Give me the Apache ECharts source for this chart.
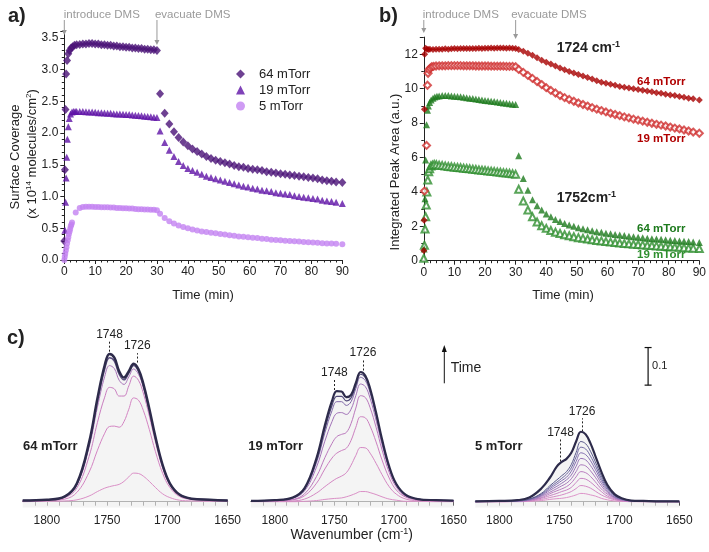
<!DOCTYPE html>
<html><head><meta charset="utf-8">
<script src="https://cdn.jsdelivr.net/npm/echarts@6/dist/echarts.min.js"></script>
<style>html,body{margin:0;padding:0;background:#fff}#c{width:709px;height:552px}</style>
</head><body><div id="c"></div>
<script>
// ---------------- Panel a: surface coverage (x1e14 molecules/cm2) vs time (min)
const tRiseA64 = [0, 0.2, 0.4, 0.6, 0.9, 1.3, 1.7, 2.2, 2.7, 3.3, 4, 5];
const vRiseA64 = [0.3, 1.42, 2.37, 2.93, 3.14, 3.25, 3.30, 3.34, 3.36, 3.38, 3.39, 3.395];
const tRiseA19 = [0.2, 0.4, 0.6, 0.8, 1.0, 1.3, 1.6, 2.0, 2.5, 3.0, 3.5, 4, 5];
const vRiseA19 = [0.47, 0.91, 1.29, 1.62, 1.90, 2.10, 2.23, 2.30, 2.33, 2.34, 2.34, 2.34, 2.34];
const tRiseA5 = [0, 0.15, 0.3, 0.5, 0.7, 0.9, 1.1, 1.3, 1.5, 1.7, 1.9, 2.1, 2.3, 2.5, 3.7, 5];
const vRiseA5 = [0, 0.05, 0.10, 0.15, 0.20, 0.26, 0.31, 0.36, 0.41, 0.45, 0.49, 0.53, 0.56, 0.59, 0.75, 0.82];
const tPlat = [6,7,8,9,10,11,12,13,14,15,16,17,18,19,20,21,22,23,24,25,26,27,28,29,30];
const vPlatA64 = [3.40,3.40,3.41,3.41,3.40,3.40,3.39,3.39,3.38,3.38,3.37,3.37,3.36,3.36,3.35,3.35,3.34,3.34,3.33,3.33,3.32,3.32,3.31,3.31,3.30];
const vPlatA19 = [2.34,2.335,2.33,2.33,2.325,2.32,2.32,2.315,2.31,2.31,2.305,2.30,2.30,2.295,2.29,2.29,2.285,2.28,2.275,2.27,2.265,2.26,2.255,2.25,2.245];
const vPlatA5 = [0.835,0.84,0.84,0.84,0.835,0.835,0.83,0.83,0.83,0.825,0.825,0.82,0.82,0.815,0.815,0.81,0.81,0.805,0.80,0.80,0.795,0.795,0.79,0.79,0.785];
const tDecay = [31,32.5,34,35.5,37,38.5,40,41.5,43,44.5,46,47.5,49,50.5,52,53.5,55,56.5,58,59.5,61,62.5,64,65.5,67,68.5,70,71.5,73,74.5,76,77.5,79,80.5,82,83.5,85,86.5,88,90];
const vDecA64 = [2.62,2.31,2.14,2.02,1.93,1.86,1.80,1.75,1.71,1.67,1.63,1.60,1.57,1.55,1.53,1.51,1.49,1.47,1.46,1.44,1.43,1.42,1.41,1.39,1.38,1.37,1.36,1.35,1.34,1.33,1.32,1.31,1.30,1.29,1.28,1.26,1.25,1.24,1.23,1.22];
const vDecA19 = [2.03,1.85,1.73,1.63,1.55,1.49,1.44,1.41,1.38,1.35,1.32,1.30,1.28,1.26,1.24,1.22,1.20,1.18,1.16,1.15,1.13,1.12,1.10,1.09,1.08,1.06,1.05,1.04,1.03,1.01,1.00,0.99,0.98,0.97,0.96,0.94,0.93,0.92,0.91,0.89];
const vDecA5 = [0.73,0.66,0.61,0.575,0.545,0.52,0.50,0.48,0.465,0.45,0.44,0.43,0.42,0.41,0.40,0.39,0.38,0.37,0.365,0.36,0.35,0.345,0.335,0.33,0.32,0.315,0.31,0.305,0.30,0.295,0.29,0.285,0.28,0.275,0.27,0.265,0.26,0.258,0.255,0.25];

// ---------------- Panel b: integrated peak area (a.u.) vs time (min)
const tRiseB1724_64 = [0, 0.1, 0.2, 0.3, 0.6, 1, 1.5, 2, 3, 4, 5];
const vRiseB1724_64 = [0.6, 2.35, 8.8, 12.0, 12.35, 12.3, 12.28, 12.3, 12.28, 12.3, 12.3];
const tRiseB1724_19 = [0.2, 0.9, 1.2, 1.4, 1.7, 2.1, 2.6, 3.2, 4, 5];
const vRiseB1724_19 = [4.05, 6.7, 10.2, 10.9, 11.1, 11.2, 11.28, 11.3, 11.32, 11.33];
const tRiseB1752_64 = [0.1, 0.4, 0.6, 0.9, 1.2, 1.5, 1.9, 2.4, 3, 3.6, 4.3, 5];
const vRiseB1752_64 = [0.68, 3.6, 5.85, 7.9, 8.75, 9.0, 9.2, 9.35, 9.45, 9.52, 9.56, 9.58];
const tRiseB1752_19 = [0, 0.2, 0.4, 0.6, 0.8, 1.0, 1.3, 1.6, 1.9, 2.3, 2.8, 3.4, 4.1, 5];
const vRiseB1752_19 = [0.14, 0.9, 1.84, 2.56, 3.24, 4.0, 4.69, 5.17, 5.35, 5.5, 5.55, 5.6, 5.58, 5.55];
const vPlatB1724_64 = [12.3,12.32,12.3,12.32,12.33,12.32,12.33,12.33,12.34,12.33,12.34,12.34,12.35,12.34,12.35,12.35,12.36,12.35,12.36,12.36,12.36,12.35,12.36,12.35,12.34];
const vPlatB1724_19 = [11.33,11.33,11.34,11.34,11.34,11.34,11.34,11.33,11.33,11.33,11.33,11.32,11.32,11.32,11.32,11.32,11.31,11.31,11.31,11.31,11.31,11.3,11.3,11.3,11.28];
const vPlatB1752_64 = [9.6,9.6,9.6,9.58,9.56,9.55,9.53,9.5,9.48,9.45,9.43,9.4,9.37,9.35,9.32,9.3,9.27,9.25,9.22,9.2,9.17,9.15,9.12,9.1,9.08];
const vPlatB1752_19 = [5.53,5.5,5.48,5.46,5.44,5.42,5.4,5.38,5.36,5.34,5.32,5.3,5.28,5.26,5.24,5.22,5.2,5.18,5.16,5.14,5.12,5.1,5.08,5.05,5.02];
const vDecB1724_64 = [12.28,12.18,12.06,11.95,11.80,11.66,11.54,11.43,11.32,11.2,11.1,11.0,10.92,10.83,10.74,10.65,10.56,10.46,10.38,10.32,10.26,10.2,10.13,10.09,10.04,9.99,9.95,9.91,9.86,9.82,9.77,9.73,9.68,9.64,9.6,9.55,9.5,9.45,9.41,9.34];
const vDecB1724_19 = [11.12,10.95,10.77,10.6,10.42,10.24,10.06,9.9,9.75,9.6,9.48,9.37,9.27,9.17,9.08,8.99,8.9,8.81,8.73,8.65,8.57,8.5,8.43,8.36,8.3,8.23,8.17,8.11,8.05,7.99,7.93,7.88,7.83,7.77,7.71,7.66,7.6,7.54,7.48,7.41];
const vDecB1752_64 = [6.1,4.78,4.1,3.55,3.2,2.95,2.72,2.55,2.4,2.28,2.17,2.08,2.0,1.92,1.86,1.8,1.74,1.69,1.65,1.6,1.56,1.53,1.49,1.46,1.42,1.39,1.36,1.33,1.31,1.28,1.26,1.24,1.22,1.19,1.17,1.15,1.13,1.11,1.09,1.06];
const vDecB1752_19 = [4.15,3.47,2.95,2.55,2.25,2.03,1.88,1.76,1.66,1.58,1.51,1.45,1.39,1.34,1.3,1.26,1.22,1.18,1.15,1.11,1.08,1.06,1.03,1.0,0.98,0.96,0.94,0.92,0.9,0.88,0.86,0.84,0.83,0.81,0.79,0.78,0.76,0.74,0.73,0.71];

// ---------------- Panel c: IR spectra (absorbance) vs wavenumber (cm-1), earliest -> latest
const wn = [1820,1800,1785,1775,1765,1758,1752,1748,1744,1740,1736,1732,1728,1724,1720,1715,1710,1704,1698,1690,1680,1665,1650];
const spec64_1 = [0.000,0.001,0.002,0.005,0.015,0.027,0.036,0.040,0.043,0.046,0.054,0.066,0.076,0.075,0.068,0.054,0.038,0.021,0.011,0.004,0.002,0.001,0.001];
const spec64_2 = [0.002,0.003,0.007,0.025,0.078,0.137,0.182,0.200,0.201,0.198,0.213,0.246,0.276,0.270,0.243,0.192,0.134,0.076,0.038,0.014,0.006,0.003,0.002];
const spec64_3 = [0.002,0.004,0.011,0.037,0.120,0.211,0.278,0.304,0.300,0.281,0.281,0.308,0.334,0.323,0.289,0.228,0.160,0.090,0.045,0.017,0.007,0.004,0.003];
const spec64_4 = [0.003,0.005,0.013,0.045,0.144,0.252,0.333,0.362,0.354,0.323,0.312,0.332,0.353,0.339,0.304,0.239,0.167,0.095,0.048,0.018,0.008,0.004,0.003];
const spec64_5 = [0.003,0.005,0.014,0.047,0.152,0.268,0.353,0.383,0.374,0.339,0.324,0.342,0.362,0.347,0.310,0.244,0.171,0.097,0.049,0.019,0.008,0.005,0.003];
const spec64_6 = [0.003,0.005,0.014,0.049,0.157,0.275,0.363,0.393,0.383,0.347,0.330,0.347,0.367,0.352,0.314,0.247,0.173,0.098,0.049,0.019,0.008,0.005,0.003];
const spec19_1 = [0.000,0.000,0.000,0.001,0.003,0.006,0.008,0.009,0.010,0.013,0.017,0.022,0.027,0.027,0.024,0.019,0.013,0.007,0.004,0.001,0.001,0.000,0.000];
const spec19_2 = [0.001,0.001,0.002,0.007,0.023,0.040,0.054,0.062,0.068,0.077,0.097,0.123,0.144,0.143,0.129,0.102,0.072,0.040,0.020,0.007,0.003,0.002,0.001];
const spec19_3 = [0.001,0.002,0.005,0.016,0.049,0.087,0.116,0.129,0.136,0.142,0.163,0.198,0.226,0.223,0.201,0.159,0.111,0.063,0.031,0.012,0.005,0.002,0.002];
const spec19_4 = [0.001,0.003,0.006,0.021,0.067,0.117,0.155,0.173,0.179,0.184,0.208,0.249,0.282,0.277,0.250,0.198,0.138,0.078,0.039,0.014,0.006,0.003,0.002];
const spec19_5 = [0.002,0.003,0.009,0.029,0.092,0.161,0.213,0.235,0.237,0.232,0.246,0.282,0.313,0.306,0.275,0.217,0.152,0.086,0.043,0.016,0.007,0.004,0.003];
const spec19_6 = [0.002,0.004,0.010,0.033,0.104,0.183,0.242,0.266,0.266,0.256,0.266,0.301,0.331,0.322,0.289,0.228,0.160,0.090,0.045,0.017,0.007,0.004,0.003];
const spec19_7 = [0.002,0.004,0.010,0.034,0.110,0.193,0.256,0.280,0.280,0.268,0.276,0.309,0.339,0.330,0.296,0.233,0.163,0.092,0.046,0.017,0.007,0.004,0.003];
const spec19_8 = [0.002,0.004,0.011,0.036,0.116,0.203,0.268,0.294,0.293,0.278,0.284,0.316,0.345,0.335,0.301,0.237,0.166,0.094,0.047,0.018,0.007,0.004,0.003];
const spec5_1 = [0.000,0.000,0.000,0.001,0.003,0.006,0.008,0.009,0.011,0.014,0.018,0.022,0.021,0.018,0.015,0.009,0.005,0.002,0.001,0.000,0.000,0.000,0.000];
const spec5_2 = [0.000,0.000,0.001,0.002,0.006,0.011,0.015,0.018,0.022,0.027,0.035,0.043,0.041,0.036,0.028,0.018,0.011,0.005,0.002,0.001,0.000,0.000,0.000];
const spec5_3 = [0.000,0.000,0.001,0.003,0.009,0.016,0.022,0.027,0.031,0.038,0.051,0.062,0.060,0.052,0.041,0.027,0.015,0.007,0.003,0.001,0.001,0.000,0.000];
const spec5_4 = [0.000,0.001,0.001,0.004,0.011,0.021,0.029,0.034,0.040,0.050,0.066,0.080,0.077,0.067,0.053,0.034,0.020,0.009,0.004,0.001,0.001,0.000,0.000];
const spec5_5 = [0.000,0.001,0.002,0.004,0.014,0.025,0.035,0.042,0.049,0.061,0.080,0.098,0.095,0.082,0.065,0.042,0.024,0.011,0.005,0.002,0.001,0.001,0.000];
const spec5_6 = [0.000,0.001,0.002,0.005,0.016,0.030,0.041,0.049,0.058,0.071,0.094,0.115,0.111,0.096,0.076,0.049,0.028,0.012,0.006,0.002,0.001,0.001,0.000];
const spec5_7 = [0.001,0.001,0.002,0.006,0.018,0.034,0.047,0.056,0.065,0.081,0.107,0.130,0.125,0.109,0.086,0.056,0.032,0.014,0.006,0.002,0.001,0.001,0.001];
const spec5_8 = [0.001,0.001,0.002,0.007,0.020,0.038,0.052,0.062,0.073,0.090,0.119,0.145,0.140,0.121,0.096,0.062,0.036,0.016,0.007,0.002,0.001,0.001,0.001];
const spec5_9 = [0.001,0.001,0.003,0.007,0.022,0.042,0.058,0.069,0.080,0.099,0.131,0.160,0.154,0.134,0.106,0.069,0.039,0.017,0.008,0.003,0.002,0.001,0.001];
const spec5_10 = [0.001,0.002,0.004,0.011,0.035,0.063,0.094,0.106,0.114,0.130,0.160,0.186,0.179,0.155,0.122,0.080,0.045,0.020,0.009,0.003,0.002,0.001,0.001];

// peak annotation lines: wavenumber, lower and upper absorbance, label
const peakWn64 = [1748, 1725], peakLo64 = [0.399, 0.370], peakHi64 = [0.426, 0.395];
const peakWn19 = [1750, 1726], peakLo19 = [0.297, 0.349], peakHi19 = [0.325, 0.377];
const peakWn5 = [1749, 1731], peakLo5 = [0.107, 0.187], peakHi5 = [0.166, 0.222];
const peakNames = ['1748', '1726'];
const pressureNames = ['64 mTorr', '19 mTorr', '5 mTorr'];
const eventTimes = [0, 30];
const eventNames = ['introduce DMS', 'evacuate DMS'];
const scaleBar = [1676, 0.31, 0.41, '0.1'];

// ---------------- build
const zip = (xs, ys) => xs.map((x, i) => [x, ys[i]]);
const cat = (...a) => [].concat(...a);
const FONT = "'Liberation Sans', Arial, sans-serif";
const INK = '#222';

const chart = echarts.init(document.getElementById('c'), null, {renderer: 'canvas'});

function timeXAxis(gi) {
  return {gridIndex: gi, type: 'value', min: 0, max: 90, interval: 10,
    axisLine: {show: true, lineStyle: {color: INK, width: 1}},
    axisTick: {show: true, length: 4, lineStyle: {color: INK}},
    minorTick: {show: true, splitNumber: 5, length: 2.5, lineStyle: {color: INK}},
    axisLabel: {color: INK, fontSize: 12, margin: 6, fontFamily: FONT},
    splitLine: {show: false}, minorSplitLine: {show: false}};
}
function valYAxis(gi, max, interval, minorSplit, dec) {
  return {gridIndex: gi, type: 'value', min: 0, max: max, interval: interval,
    axisLine: {show: true, lineStyle: {color: INK, width: 1}},
    axisTick: {show: true, length: 4, lineStyle: {color: INK}},
    minorTick: {show: true, splitNumber: minorSplit, length: 2.5, lineStyle: {color: INK}},
    axisLabel: {color: INK, fontSize: 12, margin: 6, fontFamily: FONT, showMaxLabel: false,
      formatter: v => (Math.abs(v / interval - Math.round(v / interval)) < 1e-6) ? v.toFixed(dec) : ''},
    splitLine: {show: false}, minorSplitLine: {show: false}};
}
function wnXAxis(gi) {
  return {gridIndex: gi, type: 'value', min: 1650, max: 1820, inverse: true, interval: 10,
    axisLine: {show: true, lineStyle: {color: INK, width: 1}},
    axisTick: {show: true, length: 4, lineStyle: {color: INK}},
    axisLabel: {color: INK, fontSize: 12, margin: 7, fontFamily: FONT, showMaxLabel: false,
      formatter: v => (v % 50 === 0) ? String(v) : ''},
    splitLine: {show: false}};
}
function specYAxis(gi) {
  return {gridIndex: gi, type: 'value', min: -0.016, max: 0.45, show: false, splitLine: {show: false}};
}

const series = [];
// panel a
series.push({name: pressureNames[0], type: 'scatter', xAxisIndex: 0, yAxisIndex: 0, symbol: 'diamond', symbolSize: [8, 9],
  itemStyle: {color: '#4a1277'}, data: zip(cat(tRiseA64, tPlat, tDecay), cat(vRiseA64, vPlatA64, vDecA64))});
series.push({name: pressureNames[1], type: 'scatter', xAxisIndex: 0, yAxisIndex: 0, symbol: 'triangle', symbolSize: 7,
  itemStyle: {color: '#5f13a6'}, data: zip(cat(tRiseA19, tPlat, tDecay), cat(vRiseA19, vPlatA19, vDecA19))});
series.push({name: pressureNames[2], type: 'scatter', xAxisIndex: 0, yAxisIndex: 0, symbol: 'circle', symbolSize: 6,
  itemStyle: {color: '#c382f1'}, data: zip(cat(tRiseA5, tPlat, tDecay), cat(vRiseA5, vPlatA5, vDecA5))});
// panel b
series.push({name: '1752 cm-1, 19 mTorr', type: 'scatter', xAxisIndex: 1, yAxisIndex: 1, symbol: 'emptyTriangle', symbolSize: 7,
  itemStyle: {color: '#2f8f2f', borderWidth: 1}, data: zip(cat(tRiseB1752_19, tPlat, tDecay), cat(vRiseB1752_19, vPlatB1752_19, vDecB1752_19))});
series.push({name: '1752 cm-1, 64 mTorr', type: 'scatter', xAxisIndex: 1, yAxisIndex: 1, symbol: 'triangle', symbolSize: 7,
  itemStyle: {color: '#1d7a1d'}, data: zip(cat(tRiseB1752_64, tPlat, tDecay), cat(vRiseB1752_64, vPlatB1752_64, vDecB1752_64))});
series.push({name: '1724 cm-1, 19 mTorr', type: 'scatter', xAxisIndex: 1, yAxisIndex: 1, symbol: 'emptyDiamond', symbolSize: 7,
  itemStyle: {color: '#d03030', borderWidth: 1}, data: zip(cat(tRiseB1724_19, tPlat, tDecay), cat(vRiseB1724_19, vPlatB1724_19, vDecB1724_19))});
series.push({name: '1724 cm-1, 64 mTorr', type: 'scatter', xAxisIndex: 1, yAxisIndex: 1, symbol: 'diamond', symbolSize: 7,
  itemStyle: {color: '#a70000'}, data: zip(cat(tRiseB1724_64, tPlat, tDecay), cat(vRiseB1724_64, vPlatB1724_64, vDecB1724_64))});

// panel c
const specSets = [
  {gi: 2, curves: [spec64_1, spec64_2, spec64_3, spec64_4, spec64_5, spec64_6],
   colors: ['#da8fc6', '#d384c2', '#c97dbf', '#a874b8', '#5b4f80', '#2d2b4b'], widths: [1, 1, 1, 1, 1.5, 2.5],
   pw: peakWn64, plo: peakLo64, phi: peakHi64},
  {gi: 3, curves: [spec19_1, spec19_2, spec19_3, spec19_4, spec19_5, spec19_6, spec19_7, spec19_8],
   colors: ['#da8fc6', '#d487c3', '#cc80c0', '#bb79bd', '#a273b8', '#8068a8', '#524a7a', '#2d2b4b'], widths: [1, 1, 1, 1, 1, 1, 1.2, 2.2],
   pw: peakWn19, plo: peakLo19, phi: peakHi19},
  {gi: 4, curves: [spec5_1, spec5_2, spec5_3, spec5_4, spec5_5, spec5_6, spec5_7, spec5_8, spec5_9, spec5_10],
   colors: ['#dc92c8', '#d48ac6', '#c883c3', '#b97dbf', '#a878bb', '#9673b7', '#8470b0', '#6f68a2', '#5a5a8c', '#2d2b4b'],
   widths: [1, 1, 1, 1, 1, 1, 1, 1, 1, 2.2], pw: peakWn5, plo: peakLo5, phi: peakHi5}
];
specSets.forEach(s => {
  const top = s.curves[s.curves.length - 1];
  series.push({type: 'line', xAxisIndex: s.gi, yAxisIndex: s.gi, data: zip(wn, top), smooth: 0.4, showSymbol: false,
    lineStyle: {width: 0, opacity: 0}, areaStyle: {color: '#efefef', origin: 'start'}, z: 1, silent: true,
    markLine: {silent: true, symbol: ['none', 'none'], animation: false,
      lineStyle: {type: [2, 2], color: INK, width: 1},
      label: {show: true, position: 'end', distance: 1, color: INK, fontSize: 12, fontFamily: FONT, formatter: p => p.name},
      data: s.pw.map((w, i) => [{coord: [w, s.plo[i]], name: peakNames[i]}, {coord: [w, s.phi[i]], name: peakNames[i]}])}});
  s.curves.forEach((c, i) => {
    series.push({type: 'line', xAxisIndex: s.gi, yAxisIndex: s.gi, data: zip(wn, c), smooth: 0.4, showSymbol: false,
      lineStyle: {width: s.widths[i], color: s.colors[i]}, z: 2 + i, silent: true});
  });
});

const option = {
  animation: false,
  backgroundColor: '#fff',
  textStyle: {fontFamily: FONT},
  grid: [
    {left: 64.3, top: 31.4, width: 278, height: 228.6},
    {left: 423.8, top: 37.1, width: 277.9, height: 223.6},
    {left: 22.7, top: 332.5, width: 205, height: 175.2},
    {left: 251, top: 332.5, width: 202.5, height: 175.2},
    {left: 475.3, top: 332.5, width: 204, height: 175.2}
  ],
  xAxis: [timeXAxis(0), timeXAxis(1), wnXAxis(2), wnXAxis(3), wnXAxis(4)],
  yAxis: [valYAxis(0, 3.6, 0.5, 5, 1), valYAxis(1, 13, 2, 2, 0), specYAxis(2), specYAxis(3), specYAxis(4)],
  legend: {data: pressureNames, orient: 'vertical', left: 236, top: 67.5, itemWidth: 9, itemHeight: 9, itemGap: 3, padding: 0,
    textStyle: {fontSize: 13, color: INK, fontFamily: FONT, padding: [0, 0, 0, 9]}},
  series: series
};
chart.setOption(option);

// ---------------- annotations
const G = [];
function text(x, y, s, o) {
  o = o || {};
  G.push({type: 'text', x: x, y: y, rotation: o.rot || 0, silent: true, z: 100,
    style: {text: s, fill: o.color || INK, fontSize: o.size || 13, fontWeight: o.weight || 'normal', fontFamily: FONT,
      align: o.align || 'left', verticalAlign: 'middle', textAlign: o.align || 'left', textVerticalAlign: 'middle', rich: o.rich}});
}
function arrow(x, y0, y1, color, head, hw) {
  const dir = y1 > y0 ? 1 : -1;
  G.push({type: 'line', silent: true, z: 100, shape: {x1: x, y1: y0, x2: x, y2: y1 - dir * head},
    style: {stroke: color, lineWidth: 1}});
  G.push({type: 'polygon', silent: true, z: 100, shape: {points: [[x - hw, y1 - dir * head], [x + hw, y1 - dir * head], [x, y1]]},
    style: {fill: color}});
}
const px = (gi, x, y) => chart.convertToPixel({gridIndex: gi}, [x, y]);

// panel letters
text(8, 16, 'a)', {size: 20, weight: 'bold'});
text(379, 16, 'b)', {size: 20, weight: 'bold'});
text(7, 338, 'c)', {size: 20, weight: 'bold'});

// event arrows (a and b)
const arrowTips = [[35, 45], [33, 39]];
const textShift = [[-0.5, -2], [-1, -4.5]];
[0, 1].forEach(gi => {
  eventTimes.forEach((t, k) => {
    const x = px(gi, t, 0)[0];
    arrow(x, 20, arrowTips[gi][k], '#999', 5, 2.5);
    text(x + textShift[gi][k], 14.7, eventNames[k], {size: 11.5, color: '#9a9a9a'});
  });
});

// axis titles
const sup = {s: {fontSize: 8, verticalAlign: 'top', fontFamily: FONT, lineHeight: 14}, n: {fontSize: 13, fontFamily: FONT, lineHeight: 14}};
text(15, 157, 'Surface Coverage', {size: 13, rot: Math.PI / 2, align: 'center'});
text(32, 154, '{n|(x 10}{s|14}{n| molecules/cm}{s|2}{n|)}', {size: 13, rot: Math.PI / 2, align: 'center', rich: sup});
text(395, 172, 'Integrated Peak Area (a.u.)', {size: 13, rot: Math.PI / 2, align: 'center'});
text(203, 295, 'Time (min)', {size: 13, align: 'center'});
text(563, 295, 'Time (min)', {size: 13, align: 'center'});
const sup2 = {s: {fontSize: 9, verticalAlign: 'top', fontFamily: FONT, lineHeight: 16}, n: {fontSize: 14, fontFamily: FONT, lineHeight: 16}};
text(351.7, 535, '{n|Wavenumber (cm}{s|-1}{n|)}', {size: 14, align: 'center', rich: sup2});

// panel b annotations
const supB = {s: {fontSize: 9, fontWeight: 'bold', verticalAlign: 'top', fontFamily: FONT, lineHeight: 17}, n: {fontSize: 14, fontWeight: 'bold', fontFamily: FONT, lineHeight: 17}};
text(556.7, 48.3, '{n|1724 cm}{s|-1}', {size: 14, weight: 'bold', rich: supB});
text(556.7, 198.3, '{n|1752cm}{s|-1}', {size: 14, weight: 'bold', rich: supB});
text(637, 81.7, pressureNames[0], {size: 11.5, weight: 'bold', color: '#b00000'});
text(637, 139.3, pressureNames[1], {size: 11.5, weight: 'bold', color: '#b00000'});
text(637, 229, pressureNames[0], {size: 11.5, weight: 'bold', color: '#1d7a1d'});
text(637, 255, pressureNames[1], {size: 11.5, weight: 'bold', color: '#2f8f2f'});

// panel c annotations
text(23, 446.7, pressureNames[0], {size: 13, weight: 'bold'});
text(248.3, 446.7, pressureNames[1], {size: 13, weight: 'bold'});
text(475, 446.7, pressureNames[2], {size: 13, weight: 'bold'});
arrow(444.3, 383.3, 345, '#111', 7, 2.5);
text(450.7, 367.7, 'Time', {size: 14});
// scale bar (0.1 absorbance in the spectra's own scale)
const sb0 = px(4, scaleBar[0], scaleBar[1]), sb1 = px(4, scaleBar[0], scaleBar[2]);
G.push({type: 'line', silent: true, z: 100, shape: {x1: sb0[0], y1: sb0[1], x2: sb1[0], y2: sb1[1]}, style: {stroke: '#111', lineWidth: 1.2}});
G.push({type: 'line', silent: true, z: 100, shape: {x1: sb0[0] - 3.5, y1: sb0[1], x2: sb0[0] + 3.5, y2: sb0[1]}, style: {stroke: '#111', lineWidth: 1.2}});
G.push({type: 'line', silent: true, z: 100, shape: {x1: sb1[0] - 3.5, y1: sb1[1], x2: sb1[0] + 3.5, y2: sb1[1]}, style: {stroke: '#111', lineWidth: 1.2}});
text(sb0[0] + 4, (sb0[1] + sb1[1]) / 2, scaleBar[3], {size: 11});

chart.setOption({graphic: G});
</script></body></html>
